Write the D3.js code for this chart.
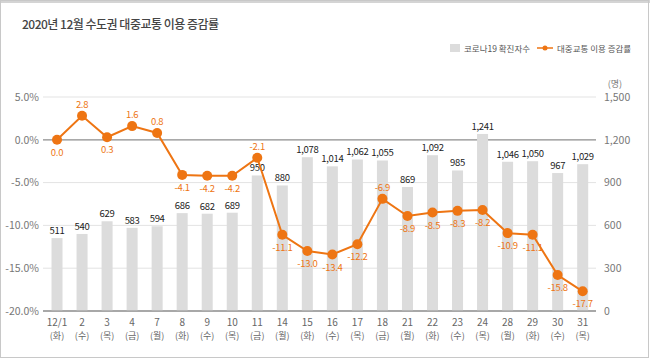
<!DOCTYPE html>
<html><head><meta charset="utf-8">
<script src="https://cdn.jsdelivr.net/npm/d3@7"></script>
<style>
body{margin:0;background:#fff;}
svg{display:block;}
</style></head>
<body>
<svg id="c" width="650" height="360"></svg>
<script>
const days = ["12/1","2","3","4","7","8","9","10","11","14","15","16","17","18","21","22","23","24","28","29","30","31"];
const weekdays = ["화","수","목","금","월","화","수","목","금","월","화","수","목","금","월","화","수","목","월","화","수","목"];
const cases = [511,540,629,583,594,686,682,689,950,880,1078,1014,1062,1055,869,1092,985,1241,1046,1050,967,1029];
const change = [0.0,2.8,0.3,1.6,0.8,-4.1,-4.2,-4.2,-2.1,-11.1,-13.0,-13.4,-12.2,-6.9,-8.9,-8.5,-8.3,-8.2,-10.9,-11.1,-15.8,-17.7];
const leftTicks = [5,0,-5,-10,-15,-20];
const rightTicks = [1500,1200,900,600,300,0];
const labelAbove = [1,3,4,8,13];

const svg = d3.select("#c");
const font = "'Liberation Sans Narrow','Noto Sans CJK KR',sans-serif";
const kfont = "'Noto Sans CJK KR',sans-serif";
const orange = "#ee7513";

// frame
svg.append("rect").attr("x",0).attr("y",0).attr("width",650).attr("height",3).attr("fill","#d4d4d4");
svg.append("rect").attr("x",0.5).attr("y",0.5).attr("width",648).attr("height",357).attr("fill","none").attr("stroke","#c8c8c8");

svg.append("text").attr("x",22).attr("y",29).text("2020년 12월 수도권 대중교통 이용 증감률")
  .attr("font-family",kfont).attr("font-size",12).attr("font-weight",500).attr("fill","#444").attr("letter-spacing",-0.5);

const x = d3.scaleBand().domain(days.map((d,i)=>i)).range([44.5,595.2]).paddingInner(0.56).paddingOuter(0.28);
const yL = d3.scaleLinear().domain([-20,5]).range([311,97]);
const yR = d3.scaleLinear().domain([0,1500]).range([311,97]);

// gridlines
const g = svg.append("g");
g.selectAll("line.grid").data(leftTicks).join("line")
  .attr("x1",43).attr("x2",596).attr("y1",d=>yL(d)).attr("y2",d=>yL(d))
  .attr("stroke",d=>d===0?"#8c8c8c":(d===-20?"#8c8c8c":"#e3e3e3")).attr("stroke-width",d=>(d===0||d===-20)?1.2:1);

// left axis
const axL = d3.axisLeft(yL).tickValues(leftTicks).tickFormat(d=>d.toFixed(1)+"%").tickSize(0).tickPadding(4);
const gl = svg.append("g").attr("transform","translate(43,0)").call(axL);
gl.select(".domain").remove();
gl.selectAll("text").attr("font-family",font).attr("font-size",10.5).attr("fill","#777");

const axR = d3.axisRight(yR).tickValues(rightTicks).tickFormat(d3.format(",")).tickSize(0).tickPadding(8);
const gr = svg.append("g").attr("transform","translate(596,0)").call(axR);
gr.select(".domain").remove();
gr.selectAll("text").attr("font-family",font).attr("font-size",10.5).attr("fill","#777");
svg.append("text").attr("x",622).attr("y",87).attr("text-anchor","end").text("(명)")
  .attr("font-family",kfont).attr("font-size",9).attr("fill","#777");

// bars
svg.append("g").selectAll("rect").data(cases).join("rect")
  .attr("x",(d,i)=>x(i)).attr("width",x.bandwidth())
  .attr("y",d=>yR(d)).attr("height",d=>yR(0)-yR(d)).attr("fill","#dcdcdc");
// redraw zero line & bottom over bars
svg.append("line").attr("x1",43).attr("x2",596).attr("y1",yL(-20)).attr("y2",yL(-20)).attr("stroke","#8c8c8c").attr("stroke-width",1.2);

svg.append("g").selectAll("text").data(cases).join("text")
  .attr("x",(d,i)=>x(i)+x.bandwidth()/2).attr("y",d=>yR(d)-4)
  .attr("text-anchor","middle").text(d3.format(","))
  .attr("font-family",font).attr("font-size",9.5).attr("fill","#222").attr("letter-spacing",-0.3);

// x labels
const xl = svg.append("g");
days.forEach((d,i)=>{
  const cx = x(i)+x.bandwidth()/2;
  xl.append("text").attr("x",cx).attr("y",326).attr("text-anchor","middle").text(d)
    .attr("font-family",font).attr("font-size",10).attr("fill","#666");
  xl.append("text").attr("x",cx).attr("y",339).attr("text-anchor","middle").text("("+weekdays[i]+")")
    .attr("font-family",kfont).attr("font-size",9).attr("fill","#666");
});

// line
const line = d3.line().x((d,i)=>x(i)+x.bandwidth()/2).y(d=>yL(d));
svg.append("path").datum(change).attr("d",line).attr("fill","none").attr("stroke",orange).attr("stroke-width",2);
svg.append("g").selectAll("circle").data(change).join("circle")
  .attr("cx",(d,i)=>x(i)+x.bandwidth()/2).attr("cy",d=>yL(d)).attr("r",5).attr("fill",orange);
svg.append("g").selectAll("text").data(change).join("text")
  .attr("x",(d,i)=>x(i)+x.bandwidth()/2)
  .attr("y",(d,i)=>labelAbove.includes(i)?yL(d)-8:yL(d)+16)
  .attr("text-anchor","middle").text(d=>d.toFixed(1))
  .attr("font-family",font).attr("font-size",9.5).attr("fill",orange).attr("letter-spacing",-0.3);

// legend
const lg = svg.append("g");
lg.append("rect").attr("x",450).attr("y",44).attr("width",10).attr("height",8).attr("fill","#dcdcdc");
lg.append("text").attr("x",464).attr("y",51.5).text("코로나19 확진자수").attr("font-family",kfont).attr("font-size",8.5).attr("fill","#555");
lg.append("line").attr("x1",537).attr("x2",553).attr("y1",48).attr("y2",48).attr("stroke",orange).attr("stroke-width",1.5);
lg.append("circle").attr("cx",545).attr("cy",48).attr("r",2.5).attr("fill",orange);
lg.append("text").attr("x",557).attr("y",51.5).text("대중교통 이용 증감률").attr("font-family",kfont).attr("font-size",8.5).attr("fill","#555");
</script>
</body></html>
